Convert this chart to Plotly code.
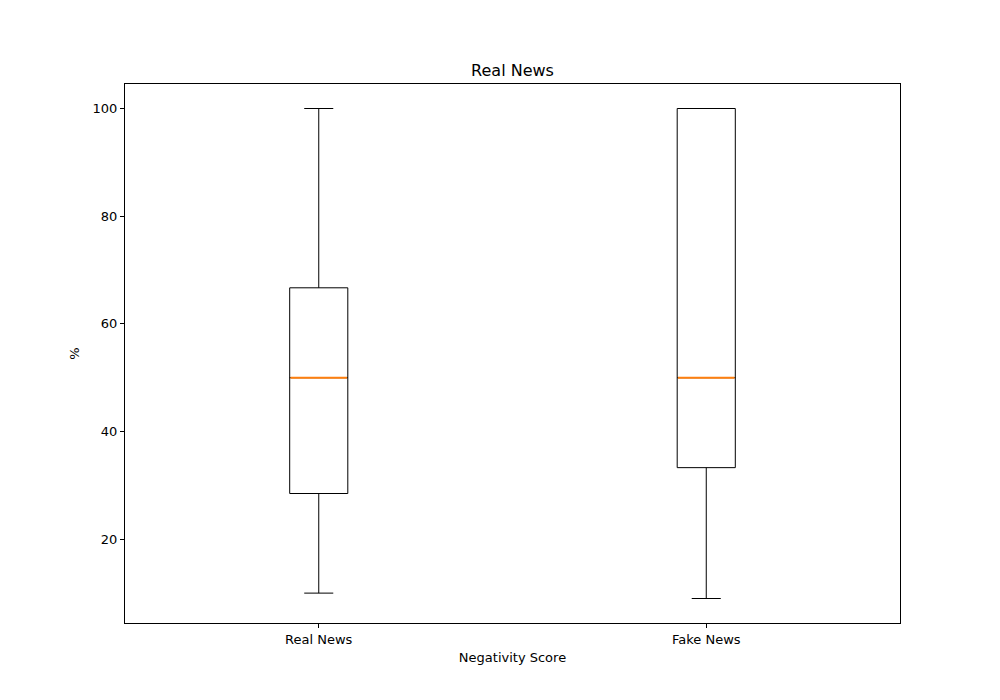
import plotly.graph_objects as go

categories = ["Real News", "Fake News"]
positions = [1, 2]
q1 = [28.5, 33.3]
median = [50.0, 50.0]
q3 = [66.7, 100.0]
lower = [10.0, 9.0]
upper = [100.0, 100.0]
y_ticks = [20, 40, 60, 80, 100]

BOX_W = 0.15
FONT = "DejaVu Sans"

fig = go.Figure()
for i, cat in enumerate(categories):
    fig.add_trace(go.Box(
        x=[positions[i]], q1=[q1[i]], median=[median[i]], q3=[q3[i]],
        lowerfence=[lower[i]], upperfence=[upper[i]],
        width=BOX_W, whiskerwidth=0.5,
        line=dict(color="black", width=1), fillcolor="rgba(255,255,255,0)",
        boxpoints=False, hoverinfo="skip", showlegend=False, name=cat,
    ))
    fig.add_trace(go.Scatter(
        x=[positions[i] - BOX_W / 2 + 0.002, positions[i] + BOX_W / 2 - 0.002],
        y=[median[i], median[i]], mode="lines",
        line=dict(color="#ff7f0e", width=2), hoverinfo="skip", showlegend=False,
    ))

fig.update_layout(
    width=1000, height=700,
    margin=dict(l=125, r=100, t=84, b=77),
    plot_bgcolor="white", paper_bgcolor="white",
    font=dict(family=FONT, size=13, color="black"),
    title=dict(text="Real News", x=0.5125, xref="container", xanchor="center",
               y=1 - 70 / 700, yref="container", yanchor="middle",
               font=dict(size=16, family=FONT, color="black")),
    xaxis=dict(range=[0.5, 2.5], tickvals=positions, ticktext=categories,
               showgrid=False, zeroline=False, showline=True, linecolor="black",
               linewidth=1, mirror=True, ticks="outside", ticklen=4, tickcolor="black",
               title=dict(text="Negativity Score", standoff=7, font=dict(size=13))),
    yaxis=dict(range=[4.45, 104.55], tickvals=y_ticks,
               showgrid=False, zeroline=False, showline=True, linecolor="black",
               linewidth=1, mirror=True, ticks="outside", ticklen=4, tickcolor="black",
               title=dict(text="%", standoff=10, font=dict(size=13))),
)

fig.write_html("out.html")
